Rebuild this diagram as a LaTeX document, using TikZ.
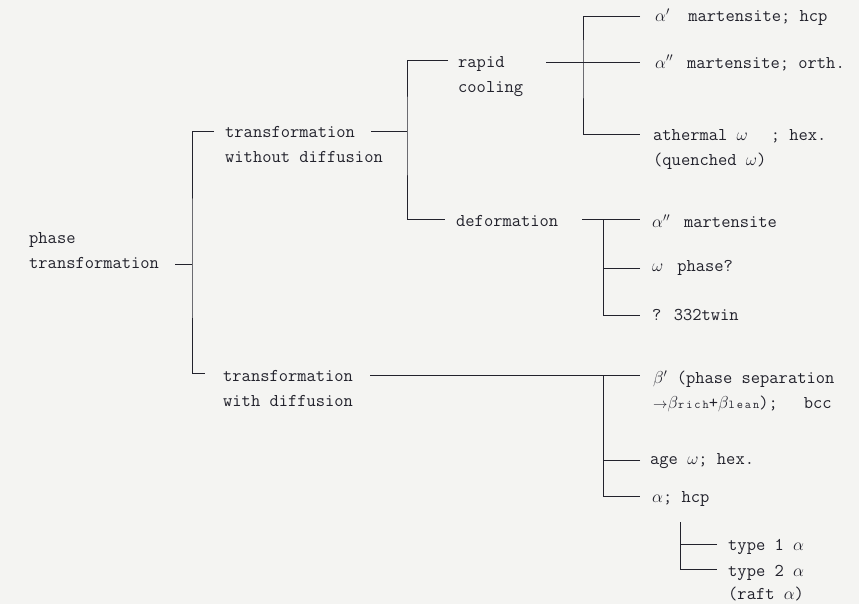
\documentclass[tikz,border=0pt]{standalone}
\usepackage{fontspec}
\definecolor{ink}{HTML}{22222C}
\definecolor{paper}{HTML}{F4F4F2}
\newcommand\smallsub[1]{{\fontsize{12}{12}\selectfont#1}}
\newcommand\smallarr{{\fontsize{14}{14}\selectfont$\rightarrow$}}
\begin{document}
\begin{tikzpicture}[x=1pt,y=-1pt,lbl/.style={anchor=west,inner sep=0pt,align=left,text=ink,font=\ttfamily\fontsize{18}{25}\selectfont},tree/.style={draw=ink,line width=1pt}]
\fill[paper] (0,0) rectangle (859,604);
\node[lbl] (root) at (29,251) {phase\\transformation};
\node[lbl] (wo) at (225,145) {transformation\\without diffusion};
\node[lbl] (wd) at (223,388) {transformation\\with diffusion};
\node[lbl] (rc) at (458,77) {rapid\\cooling};
\node[lbl] (df) at (456,221) {deformation};
\node[lbl] (am1) at (655,17) {$\alpha'$~ martensite; hcp};
\node[lbl] (am2) at (655,63) {$\alpha''$\hspace{14pt}martensite; orth.};
\node[lbl] (ath) at (653,149) {athermal $\omega$\hspace{23pt}; hex.\\(quenched $\omega$)};
\node[lbl] (dm) at (652,221) {$\alpha''$\hspace{14pt}martensite};
\node[lbl] (dw) at (652,268) {$\omega$\hspace{14pt}phase?};
\node[lbl] (tw) at (652,315) {? 332twin};
\node[lbl] (bp) at (653,391) {$\beta'$ (phase separation\\\smallarr$\beta$\smallsub{r\,i\,c\,h}+$\beta$\smallsub{l\,e\,a\,n});\hspace{26pt}bcc};
\node[lbl] (ag) at (650,461) {age $\omega$; hex.};
\node[lbl] (al) at (652,499) {$\alpha$; hcp};
\node[lbl] (t1) at (728,547) {type 1 $\alpha$};
\node[lbl] (t2) at (728,583) {type 2 $\alpha$\\[-2pt](raft $\alpha$)};
\coordinate (root-r) at (175,264);
\coordinate (wo-l) at (214,132);\coordinate (wo-r) at (371,132);
\coordinate (wd-l) at (205,373);\coordinate (wd-r) at (370,375);
\coordinate (rc-l) at (448,61);\coordinate (rc-r) at (546,63);
\coordinate (df-l) at (445,219);\coordinate (df-r) at (582,219);
\coordinate (am1-l) at (640,17);\coordinate (am2-l) at (640,63);\coordinate (ath-l) at (640,135);
\coordinate (dm-l) at (640,219);\coordinate (dw-l) at (640,268);\coordinate (tw-l) at (640,315);
\coordinate (bp-l) at (640,375);\coordinate (ag-l) at (640,460);\coordinate (al-l) at (640,496);
\coordinate (t1-l) at (717,544);\coordinate (t2-l) at (717,569);
\coordinate (j0) at (192,264);\coordinate (j1) at (407,132);\coordinate (j2) at (583,63);
\coordinate (j3) at (603,219);\coordinate (j4) at (603,375);\coordinate (j5) at (680,522);
\draw[tree] (root-r)--(j0);\draw[tree] (wo-l)-|(j0)|-(wd-l);
\draw[tree] (wo-r)--(j1);\draw[tree] (rc-l)-|(j1)|-(df-l);
\draw[tree] (rc-r)--(am2-l);\draw[tree] (am1-l)-|(j2)|-(ath-l);
\draw[tree] (df-r)--(dm-l);\draw[tree] (j3)|-(tw-l);\draw[tree] (dw-l)--(dw-l-|j3);
\draw[tree] (wd-r)--(bp-l);\draw[tree] (j4)|-(al-l);\draw[tree] (ag-l)--(ag-l-|j4);
\draw[tree] (j5)|-(t2-l);\draw[tree] (t1-l)--(t1-l-|j5);
\end{tikzpicture}
\end{document}
